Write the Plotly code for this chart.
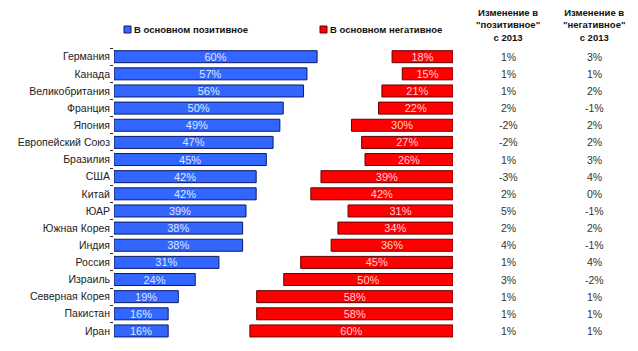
import plotly.graph_objects as go

countries = ["Германия", "Канада", "Великобритания", "Франция", "Япония", "Европейский Союз",
             "Бразилия", "США", "Китай", "ЮАР", "Южная Корея", "Индия", "Россия", "Израиль",
             "Северная Корея", "Пакистан", "Иран"]
positive = [60, 57, 56, 50, 49, 47, 45, 42, 42, 39, 38, 38, 31, 24, 19, 16, 16]
negative = [18, 15, 21, 22, 30, 27, 26, 39, 42, 31, 34, 36, 45, 50, 58, 58, 60]
chg_pos = ["1%", "1%", "1%", "2%", "-2%", "-2%", "1%", "-3%", "2%", "5%", "2%", "4%", "1%", "3%", "1%", "1%", "1%"]
chg_neg = ["3%", "1%", "2%", "-1%", "2%", "2%", "3%", "4%", "0%", "-1%", "2%", "-1%", "4%", "-2%", "1%", "1%", "1%"]
legend_names = ["В основном позитивное", "В основном негативное"]
col_headers = ["Изменение в<br>\"позитивное\"<br>с 2013", "Изменение в<br>\"негативное\"<br>с 2013"]

W, H = 638, 351
PX = 3.385  # px per percent
x0_blue = 114
x_red_right = 453
R1 = 80
R2 = 70
FONT = "Liberation Sans, Arial"

fig = go.Figure()
fig.add_trace(go.Bar(
    y=countries, x=positive, orientation="h", xaxis="x", yaxis="y",
    marker=dict(color="#3366FF", line=dict(color="#0A1A66", width=1)),
    text=[f"{v}%" for v in positive], textposition="inside", insidetextanchor="middle",
    constraintext="none",
    textfont=dict(family=FONT, size=11, color="#DDE6FF"),
    width=0.7, showlegend=False, cliponaxis=False))
fig.add_trace(go.Bar(
    y=countries, x=negative, orientation="h", xaxis="x2", yaxis="y",
    marker=dict(color="#FF0000", line=dict(color="#660000", width=1)),
    text=[f"{v}%" for v in negative], textposition="inside", insidetextanchor="middle",
    constraintext="none",
    textfont=dict(family=FONT, size=11, color="#FFD0D0"),
    width=0.7, showlegend=False, cliponaxis=False))

ytop = 56.7 - 17.14 / 2
ybot = ytop + 17 * 17.14

fig.update_layout(
    width=W, height=H, margin=dict(l=0, r=0, t=0, b=0),
    paper_bgcolor="white", plot_bgcolor="rgba(0,0,0,0)",
    font=dict(family=FONT, size=11, color="#222"),
    xaxis=dict(domain=[x0_blue / W, (x0_blue + R1 * PX) / W], range=[0, R1],
               visible=False, fixedrange=True),
    xaxis2=dict(domain=[(x_red_right - R2 * PX) / W, x_red_right / W], range=[R2, 0],
                visible=False, fixedrange=True, anchor="y"),
    yaxis=dict(domain=[1 - ybot / H, 1 - ytop / H], autorange=False,
               range=[16.5, -0.5], type="category", categoryorder="array",
               categoryarray=countries, anchor="x", showgrid=False, zeroline=False,
               ticks="outside", tickson="boundaries", ticklen=3, tickcolor="#333",
               tickwidth=1, ticklabelstandoff=3,
               tickfont=dict(family=FONT, size=10.5, color="#222"),
               showline=False),
)

# column values
for xc, vals in [(508, chg_pos), (594, chg_neg)]:
    for c, v in zip(countries, vals):
        fig.add_annotation(x=xc / W, xref="paper", y=c, yref="y", text=v,
                           showarrow=False, xanchor="center",
                           font=dict(family=FONT, size=10.5, color="#333"))

# column headers
for xc, t in [(508, col_headers[0]), (594, col_headers[1])]:
    fig.add_annotation(x=xc / W, xref="paper", y=1 - 5 / H, yref="paper", text="<b>" + t + "</b>",
                       showarrow=False, xanchor="center", yanchor="top", align="center",
                       font=dict(family=FONT, size=9.5, color="#111"))

# legend
for (sx, color, border), name in zip([(124, "#3366FF", "#0A1A66"), (320, "#FF0000", "#660000")], legend_names):
    fig.add_shape(type="rect", xref="paper", yref="paper",
                  x0=sx / W, x1=(sx + 7) / W, y0=1 - 33 / H, y1=1 - 26 / H,
                  fillcolor=color, line=dict(color=border, width=1))
    fig.add_annotation(x=(sx + 8) / W, xref="paper", y=1 - 29.5 / H, yref="paper",
                       text="<b>" + name + "</b>", showarrow=False, xanchor="left", yanchor="middle",
                       font=dict(family=FONT, size=9.5, color="#111"))

fig.write_html("out.html")
